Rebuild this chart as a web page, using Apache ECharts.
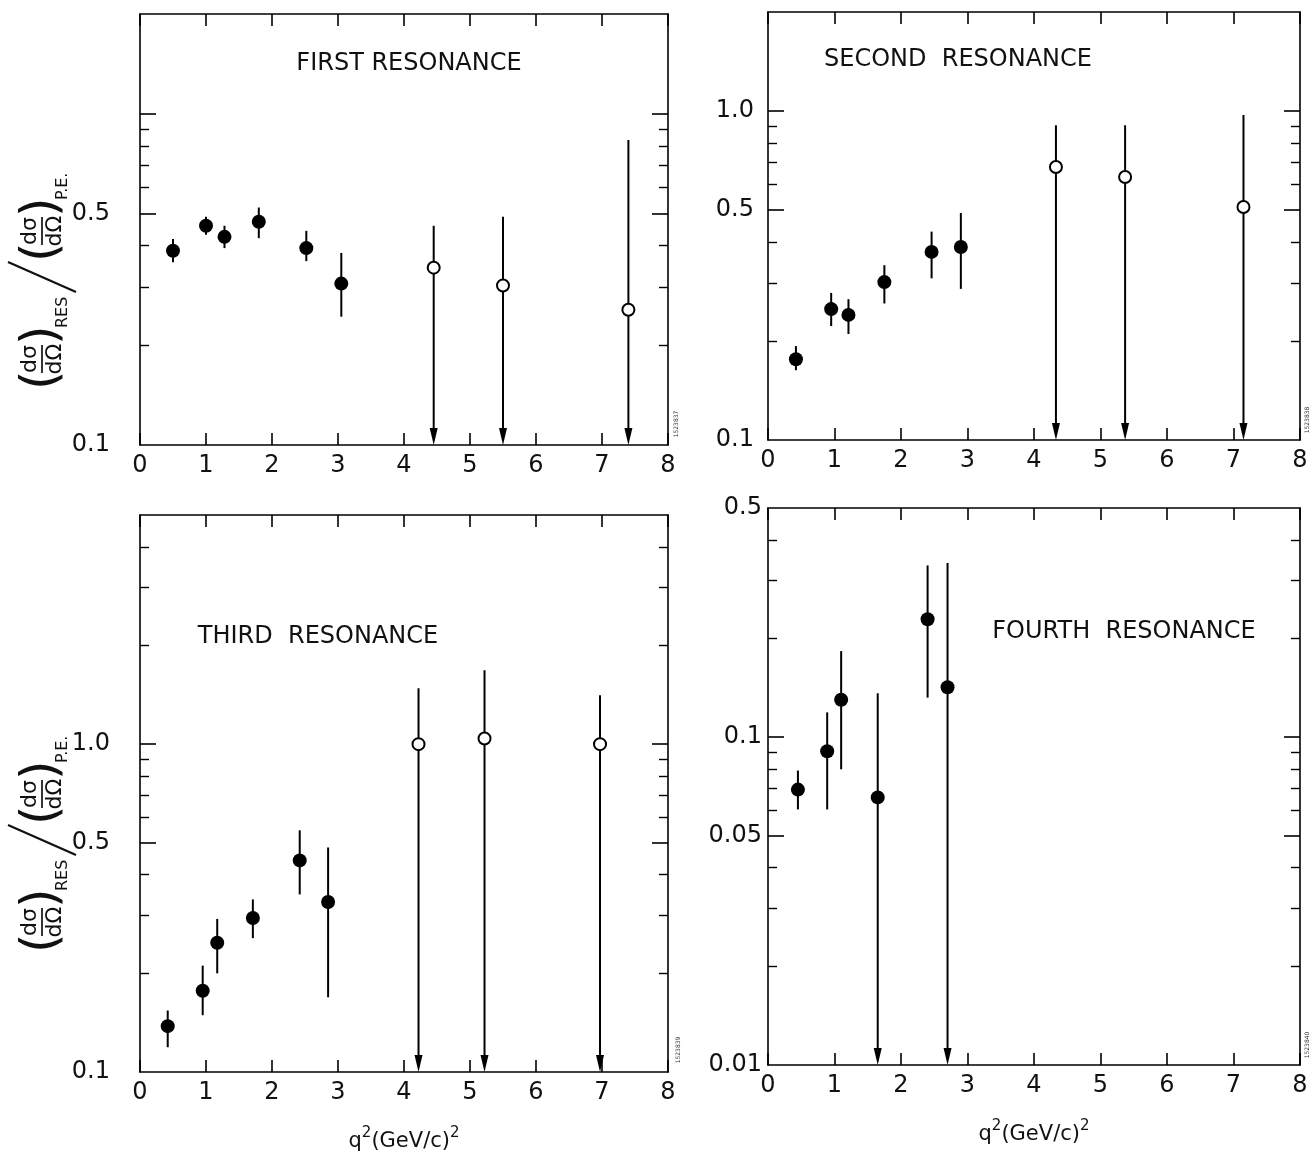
<!DOCTYPE html>
<html><head><meta charset="utf-8">
<script src="https://cdn.jsdelivr.net/npm/echarts@6/dist/echarts.min.js"></script>
<style>html,body{margin:0;padding:0;background:#fff}#c{width:1314px;height:1156px}</style>
</head><body><div id="c"></div>
<script>
// ---------- DATA ----------
// q^2 (GeV/c)^2 and ratio (dσ/dΩ)RES / (dσ/dΩ)P.E. ; lo = null -> upper limit (arrow down)
const firstX    = [0.5, 1.0, 1.28, 1.8, 2.52, 3.05, 4.45, 5.5, 7.4];
const firstY    = [0.386, 0.459, 0.425, 0.472, 0.393, 0.307, 0.343, 0.303, 0.256];
const firstLo   = [0.356, 0.431, 0.393, 0.421, 0.359, 0.244, null, null, null];
const firstHi   = [0.419, 0.489, 0.459, 0.521, 0.443, 0.380, 0.459, 0.489, 0.833];
const firstOpen = [0, 0, 0, 0, 0, 0, 1, 1, 1];

const secondX    = [0.42, 0.95, 1.21, 1.75, 2.46, 2.9, 4.33, 5.37, 7.15];
const secondY    = [0.176, 0.250, 0.240, 0.302, 0.373, 0.386, 0.676, 0.630, 0.511];
const secondLo   = [0.163, 0.222, 0.210, 0.260, 0.310, 0.288, null, null, null];
const secondHi   = [0.193, 0.280, 0.268, 0.340, 0.430, 0.490, 0.906, 0.906, 0.972];
const secondOpen = [0, 0, 0, 0, 0, 0, 1, 1, 1];

const thirdX    = [0.42, 0.95, 1.17, 1.71, 2.42, 2.85, 4.22, 5.22, 6.97];
const thirdY    = [0.138, 0.177, 0.248, 0.295, 0.442, 0.330, 1.0, 1.04, 1.0];
const thirdLo   = [0.119, 0.149, 0.200, 0.256, 0.348, 0.169, null, null, null];
const thirdHi   = [0.154, 0.211, 0.293, 0.336, 0.546, 0.484, 1.48, 1.68, 1.41];
const thirdOpen = [0, 0, 0, 0, 0, 0, 1, 1, 1];

const fourthX    = [0.45, 0.89, 1.10, 1.65, 2.40, 2.70];
const fourthY    = [0.0692, 0.0906, 0.130, 0.0655, 0.229, 0.142];
const fourthLo   = [0.0602, 0.0602, 0.0798, null, 0.132, null];
const fourthHi   = [0.0791, 0.119, 0.183, 0.136, 0.334, 0.340];
const fourthOpen = [0, 0, 0, 0, 0, 0];

// tick labels
const xTickLabels = ['0','1','2','3','4','5','6','7','8'];
const firstYLabels  = ['0.1', '0.5'];
const secondYLabels = ['0.1', '0.5', '1.0'];
const thirdYLabels  = ['0.1', '0.5', '1.0'];
const fourthYLabels = ['0.01', '0.05', '0.1', '0.5'];
const majorA = [0.5, 1.0];
const minorA = [0.2, 0.3, 0.4, 0.6, 0.7, 0.8, 0.9];
const minorB = [0.2, 0.3, 0.4, 0.6, 0.7, 0.8, 0.9, 2, 3, 4];
const majorD = [0.05, 0.1];
const minorD = [0.02, 0.03, 0.04, 0.06, 0.07, 0.08, 0.09, 0.2, 0.3, 0.4];
const titles = ['FIRST RESONANCE', 'SECOND  RESONANCE', 'THIRD  RESONANCE', 'FOURTH  RESONANCE'];
const ids = ['1523837', '1523838', '1523839', '1523840'];

// ---------- LAYOUT ----------
const FONT = 'DejaVu Sans';
const L = Math.log10;
const panels = [
  {x:firstX, y:firstY, lo:firstLo, hi:firstHi, open:firstOpen, yMin:0.1, yMax:2, labels:firstYLabels, major:majorA, minor:minorA,
   grid:{left:140, top:14, width:528, height:431}, lm:30, title:[409, 64], id:[676, 424], xname:false},
  {x:secondX, y:secondY, lo:secondLo, hi:secondHi, open:secondOpen, yMin:0.1, yMax:2, labels:secondYLabels, major:majorA, minor:minorA,
   grid:{left:768, top:12, width:532, height:428}, lm:14, title:[958, 60], id:[1307, 420], xname:false},
  {x:thirdX, y:thirdY, lo:thirdLo, hi:thirdHi, open:thirdOpen, yMin:0.1, yMax:5, labels:thirdYLabels, major:majorA, minor:minorB,
   grid:{left:140, top:515, width:528, height:557}, lm:30, title:[318, 637], id:[678, 1050], xname:true},
  {x:fourthX, y:fourthY, lo:fourthLo, hi:fourthHi, open:fourthOpen, yMin:0.01, yMax:0.5, labels:fourthYLabels, major:majorD, minor:minorD,
   grid:{left:768, top:508, width:532, height:557}, lm:6, title:[1124, 632], id:[1307, 1045], xname:true}
];

const black = '#000';
const grids = [], xAxes = [], yAxes = [], series = [], graphics = [];

function renderItem(params, api) {
  const xv = api.value(0);
  const p = api.coord([xv, api.value(1)]);
  const pHi = api.coord([xv, api.value(3)]);
  const pLo = api.coord([xv, api.value(2)]);
  const open = api.value(4), arrow = api.value(5);
  const ch = [];
  ch.push({type:'line', shape:{x1:p[0], y1:pHi[1], x2:p[0], y2: arrow ? pLo[1]-8 : pLo[1]},
           style:{stroke:black, lineWidth:2}});
  if (arrow) ch.push({type:'polygon', shape:{points:[[p[0]-4, pLo[1]-17], [p[0]+4, pLo[1]-17], [p[0], pLo[1]]]},
           style:{fill:black}});
  if (open) ch.push({type:'circle', shape:{cx:p[0], cy:p[1], r:6}, style:{fill:'#fff', stroke:black, lineWidth:2}});
  else ch.push({type:'circle', shape:{cx:p[0], cy:p[1], r:7}, style:{fill:black}});
  return {type:'group', children:ch};
}

panels.forEach((pn, i) => {
  grids.push(Object.assign({containLabel:false}, pn.grid));
  const lineSt = {color:black, width:1.6};
  const xBase = {gridIndex:i, type:'value', min:0, max:8, interval:1, splitLine:{show:false},
    axisLine:{show:true, onZero:false, lineStyle:lineSt}, axisTick:{inside:true, length:12, lineStyle:{color:black, width:1.6}}};
  xAxes.push(Object.assign({}, xBase, {position:'bottom',
    axisLabel:{margin:9, fontSize:24, fontFamily:FONT, color:'#111', formatter:(v)=>xTickLabels[Math.round(v)]},
    name: pn.xname ? '{q|q}{s|2}{q|(GeV/c)}{s|2}' : '', nameLocation:'middle', nameGap:54,
    nameTextStyle:{rich:{q:{fontSize:21, fontFamily:FONT, color:'#111', verticalAlign:'bottom', lineHeight:26},
                         s:{fontSize:15, fontFamily:FONT, color:'#111', verticalAlign:'top', lineHeight:15, padding:[0,0,14,0]}}}}));
  xAxes.push(Object.assign({}, xBase, {position:'top', axisLabel:{show:false}}));

  const mn = L(pn.yMin), mx = L(pn.yMax);
  const labVals = pn.labels.map(s => L(parseFloat(s)));
  const fmt = (v) => { let best = 0; labVals.forEach((lv, k) => { if (Math.abs(lv - v) < Math.abs(labVals[best] - v)) best = k; }); return pn.labels[best]; };
  const yBase = {gridIndex:i, type:'value', min:mn, max:mx, splitLine:{show:false}};
  ['left', 'right'].forEach(pos => {
    yAxes.push(Object.assign({}, yBase, {position:pos,
      axisLine:{show:true, lineStyle:lineSt},
      axisTick:{show:true, inside:true, length:16, customValues:pn.major.map(L), lineStyle:{color:black, width:1.6}},
      axisLabel:{show: pos === 'left', customValues:labVals, formatter:fmt, margin:pn.lm, fontSize:24, fontFamily:FONT, color:'#111'}}));
    yAxes.push(Object.assign({}, yBase, {position:pos,
      axisLine:{show:false},
      axisTick:{show:true, inside:true, length:9, customValues:pn.minor.map(L), lineStyle:{color:black, width:1.4}},
      axisLabel:{show:false}}));
  });

  const data = pn.x.map((xv, k) => {
    const arrow = pn.lo[k] === null ? 1 : 0;
    return [xv, L(pn.y[k]), arrow ? mn : L(pn.lo[k]), L(pn.hi[k]), pn.open[k], arrow];
  });
  series.push({type:'custom', coordinateSystem:'cartesian2d', xAxisIndex:i*2, yAxisIndex:i*4,
    encode:{x:0, y:[1,2,3]}, data, renderItem, silent:true, clip:false, z:5});

  graphics.push({type:'text', x:pn.title[0], y:pn.title[1],
    style:{text:titles[i], fontSize:24, fontFamily:FONT, fill:'#111', align:'center', verticalAlign:'middle',
           textAlign:'center', textVerticalAlign:'middle'}});
  graphics.push({type:'text', x:pn.id[0], y:pn.id[1], rotation:Math.PI/2,
    style:{text:ids[i], fontSize:6, fontFamily:FONT, fill:'#333', align:'center', verticalAlign:'middle',
           textAlign:'center', textVerticalAlign:'middle'}});
});

// y-axis title (dσ/dΩ)RES / (dσ/dΩ)P.E. built as a rotated group
function yTitle(cx, cy) {
  const fs = 22, ch = [];
  const T = (text, x, y, size, align, va) => ch.push({type:'text', x, y,
    style:{text, fontSize:size, fontFamily:FONT, fill:'#111', align, verticalAlign:va, textAlign:align, textVerticalAlign:va}});
  const frac = (x0) => {
    T('(', x0, 1, 50, 'left', 'middle');
    T('dσ', x0 + 31, -1, fs, 'center', 'bottom');
    T('dΩ', x0 + 31, 2, fs, 'center', 'top');
    ch.push({type:'line', shape:{x1:x0 + 17, y1:0, x2:x0 + 45, y2:0}, style:{stroke:'#111', lineWidth:1.7}});
    T(')', x0 + 45, 1, 50, 'left', 'middle');
  };
  frac(0);
  T('RES', 62, 21, 16, 'left', 'middle');
  ch.push({type:'line', shape:{x1:98, y1:34, x2:128, y2:-34}, style:{stroke:'#111', lineWidth:2.2}});
  frac(128);
  T('P.E.', 190, 21, 16, 'left', 'middle');
  const len = 226;
  ch.forEach(c => { if (c.type === 'text') c.x -= len / 2; else { c.shape.x1 -= len / 2; c.shape.x2 -= len / 2; } });
  return {type:'group', x:cx, y:cy, rotation:Math.PI/2, children:ch};
}
graphics.push(yTitle(42, 277));
graphics.push(yTitle(42, 840));

const chart = echarts.init(document.getElementById('c'), null, {renderer:'canvas'});
chart.setOption({animation:false, backgroundColor:'#fff', grid:grids, xAxis:xAxes, yAxis:yAxes, series, graphic:graphics});
</script></body></html>
